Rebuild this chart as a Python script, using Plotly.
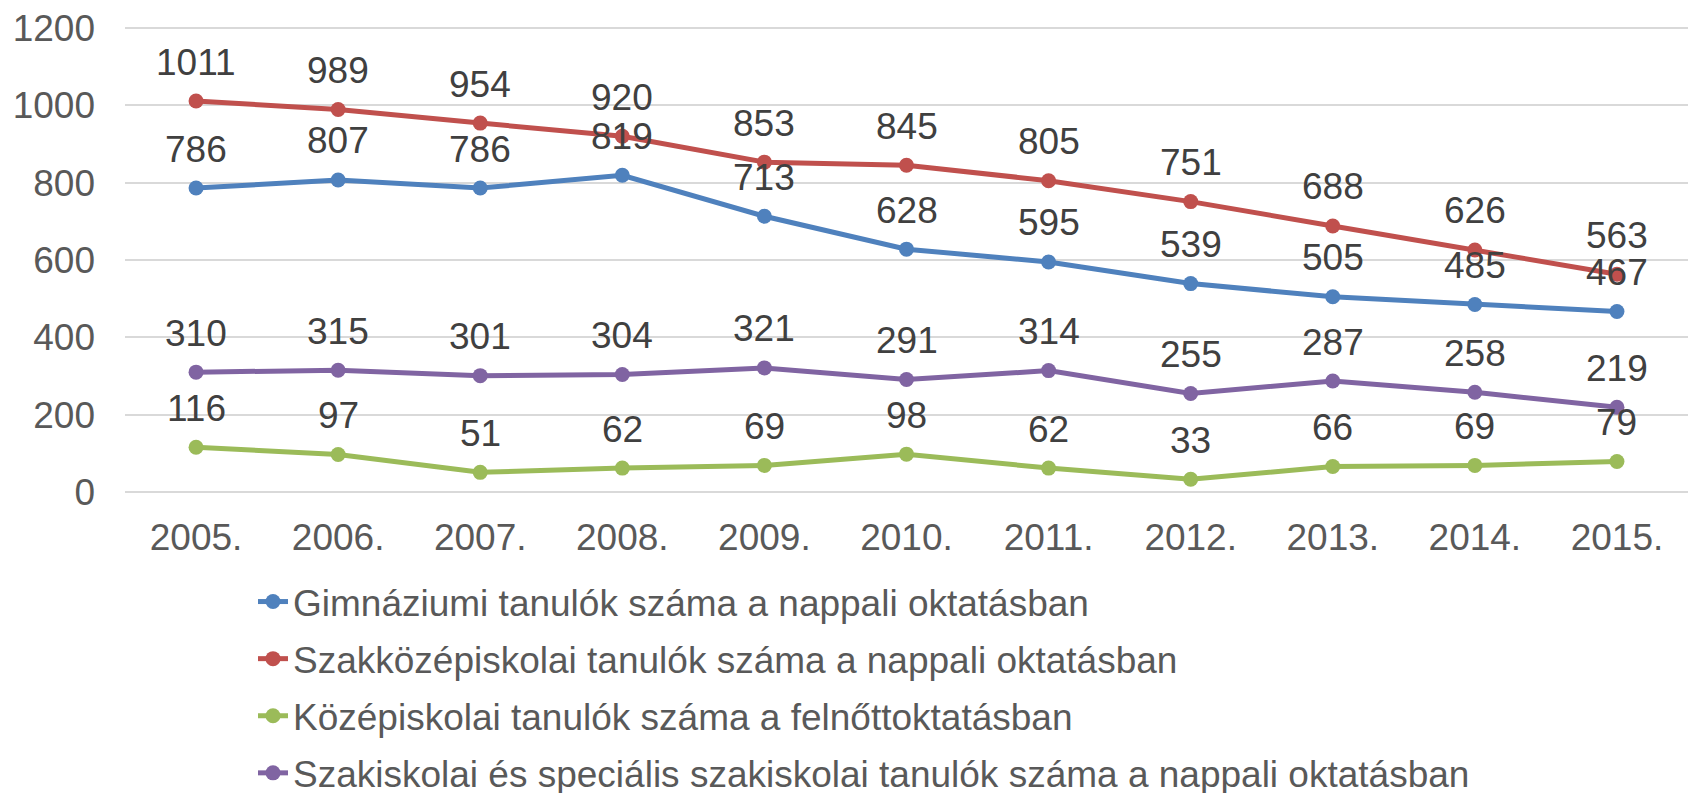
import plotly.graph_objects as go

years = ["2005.", "2006.", "2007.", "2008.", "2009.", "2010.", "2011.", "2012.", "2013.", "2014.", "2015."]
gimn = [786, 807, 786, 819, 713, 628, 595, 539, 505, 485, 467]
szakkozep = [1011, 989, 954, 920, 853, 845, 805, 751, 688, 626, 563]
felnott = [116, 97, 51, 62, 69, 98, 62, 33, 66, 69, 79]
szakiskola = [310, 315, 301, 304, 321, 291, 314, 255, 287, 258, 219]

names = [
    "Gimnáziumi tanulók száma a nappali oktatásban",
    "Szakközépiskolai tanulók száma a nappali oktatásban",
    "Középiskolai tanulók száma a felnőttoktatásban",
    "Szakiskolai és speciális szakiskolai tanulók száma a nappali oktatásban",
]
series = [gimn, szakkozep, felnott, szakiskola]
colors = ["#4F81BD", "#C0504D", "#9BBB59", "#8064A2"]

FONT = "Liberation Sans, Arial, sans-serif"
# page body has an 8px margin; figure sized to fit inside the window
W, H = 1680, 785
L, R, T = 117, 0, 16
PH = 470
B = H - T - PH
PW = W - L - R

fig = go.Figure()
for name, vals, col in zip(names, series, colors):
    fig.add_trace(go.Scatter(
        x=years, y=vals, name=name, mode="lines+markers",
        legendgroup=name,
        line=dict(color=col, width=5),
        marker=dict(color=col, size=15),
    ))

annotations = []
for vals in series:
    for i, v in enumerate(vals):
        annotations.append(dict(
            x=i, y=v, xref="x", yref="y", text=str(v), showarrow=False,
            yshift=39, yanchor="middle", xanchor="center",
            font=dict(family=FONT, size=37, color="#404040"),
        ))

fig.update_layout(
    width=W, height=H,
    margin=dict(l=L, r=R, t=T, b=B),
    plot_bgcolor="white", paper_bgcolor="white",
    font=dict(family=FONT, size=37, color="#595959"),
    annotations=annotations,
    showlegend=True,
    legend=dict(
        x=(245 - L) / PW, xanchor="left",
        y=(H - 563) / H, yref="container", yanchor="top",
        font=dict(family=FONT, size=37, color="#595959"),
        bgcolor="rgba(0,0,0,0)",
        tracegroupgap=6,
    ),
    xaxis=dict(
        type="category", range=[-0.5, len(years) - 0.5],
        showgrid=False, showline=False, zeroline=False,
        ticks="", tickfont=dict(size=37, color="#595959"),
        ticklabelstandoff=18,
    ),
    yaxis=dict(
        range=[-5, 1205], dtick=200, showgrid=True, gridcolor="#D9D9D9", gridwidth=1.5,
        zeroline=False, showline=False, ticks="",
        tickfont=dict(size=37, color="#595959"),
        ticklabelstandoff=29, ticklabeloverflow="allow",
    ),
)

fig.write_html("out.html")
